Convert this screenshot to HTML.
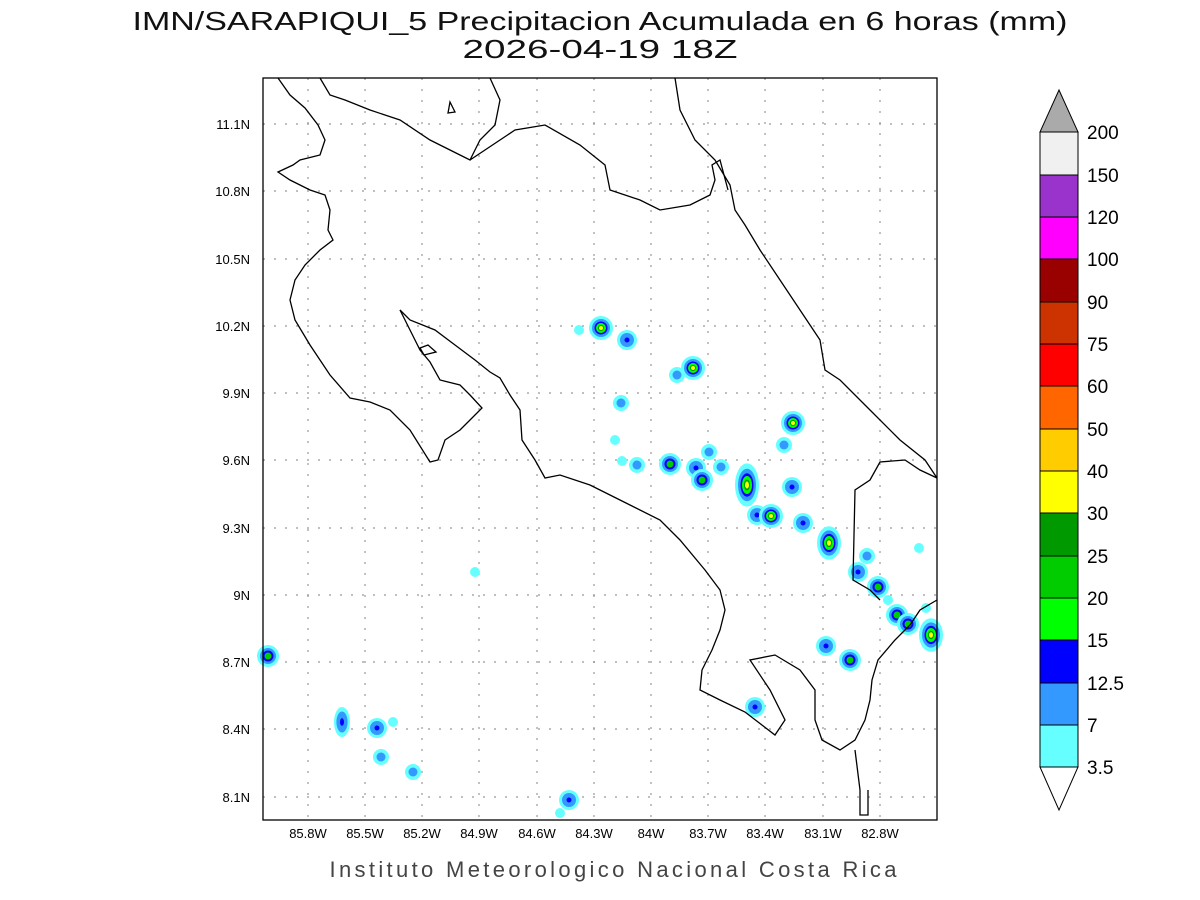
<!DOCTYPE html>
<html><head><style>
body{margin:0;background:#fff;}
svg{display:block;font-family:"Liberation Sans",sans-serif;}
</style></head><body>
<svg width="1200" height="900" viewBox="0 0 1200 900">
<defs>
<g id="b1"><ellipse rx="12" ry="12" fill="#66ffff"/><ellipse rx="9" ry="9" fill="#3399ff"/><ellipse rx="6.5" ry="6.5" fill="#0000ff"/><ellipse rx="5" ry="5" fill="#00ff00"/><ellipse rx="3" ry="3" fill="#009900"/><ellipse rx="2" ry="2" fill="#ffff00"/></g>
<g id="b2"><ellipse rx="11" ry="11" fill="#66ffff"/><ellipse rx="8" ry="8" fill="#3399ff"/><ellipse rx="5.5" ry="5.5" fill="#0000ff"/><ellipse rx="3.5" ry="3.5" fill="#00cc00"/></g>
<g id="b3"><ellipse rx="10" ry="10" fill="#66ffff"/><ellipse rx="7" ry="7" fill="#3399ff"/><ellipse rx="2.5" ry="2.5" fill="#0000ff"/></g>
<g id="b4"><ellipse rx="8" ry="8" fill="#66ffff"/><ellipse rx="4.5" ry="4.5" fill="#3399ff"/></g>
<g id="b5"><ellipse rx="5" ry="5" fill="#66ffff"/></g>
</defs>
<text x="600" y="30" font-size="26" text-anchor="middle" textLength="935" lengthAdjust="spacingAndGlyphs" fill="#111">IMN/SARAPIQUI_5 Precipitacion Acumulada en 6 horas (mm)</text>
<text x="600" y="58" font-size="26" text-anchor="middle" textLength="275" lengthAdjust="spacingAndGlyphs" fill="#111">2026-04-19 18Z</text>
<g stroke="#999" stroke-width="1.2" stroke-dasharray="2,9">
<line x1="308" y1="78" x2="308" y2="820"/><line x1="365" y1="78" x2="365" y2="820"/><line x1="422" y1="78" x2="422" y2="820"/><line x1="479" y1="78" x2="479" y2="820"/><line x1="537" y1="78" x2="537" y2="820"/><line x1="594" y1="78" x2="594" y2="820"/><line x1="651" y1="78" x2="651" y2="820"/><line x1="708" y1="78" x2="708" y2="820"/><line x1="765" y1="78" x2="765" y2="820"/><line x1="823" y1="78" x2="823" y2="820"/><line x1="880" y1="78" x2="880" y2="820"/>
<line x1="263" y1="124" x2="937" y2="124"/><line x1="263" y1="191" x2="937" y2="191"/><line x1="263" y1="259" x2="937" y2="259"/><line x1="263" y1="326" x2="937" y2="326"/><line x1="263" y1="393" x2="937" y2="393"/><line x1="263" y1="460" x2="937" y2="460"/><line x1="263" y1="528" x2="937" y2="528"/><line x1="263" y1="595" x2="937" y2="595"/><line x1="263" y1="662" x2="937" y2="662"/><line x1="263" y1="729" x2="937" y2="729"/><line x1="263" y1="797" x2="937" y2="797"/>
</g>
<g>
<use href="#b1" x="601" y="328"/><use href="#b3" x="627" y="340"/><use href="#b5" x="579" y="330"/>
<use href="#b4" x="677" y="375"/><use href="#b1" x="693" y="368"/><use href="#b4" x="621" y="403"/>
<use href="#b5" x="615" y="440"/><use href="#b5" x="622" y="461"/><use href="#b4" x="637" y="465"/>
<use href="#b2" x="670" y="464"/><use href="#b3" x="696" y="468"/><use href="#b2" x="702" y="480"/>
<use href="#b4" x="709" y="452"/><use href="#b4" x="721" y="467"/>
<g transform="translate(747,485) scale(1,1.8)"><use href="#b1"/></g>
<use href="#b3" x="757" y="515"/><use href="#b1" x="771" y="516"/><use href="#b3" x="792" y="487"/>
<use href="#b4" x="784" y="445"/><use href="#b1" x="793" y="423"/><use href="#b3" x="803" y="523"/>
<g transform="translate(829,543) scale(1,1.4)"><use href="#b1"/></g>
<use href="#b3" x="858" y="572"/><use href="#b4" x="867" y="556"/><use href="#b2" x="878" y="587"/><use href="#b2" x="897" y="615"/><use href="#b2" x="908" y="624"/>
<g transform="translate(931,635) scale(1,1.4)"><use href="#b1"/></g>
<use href="#b3" x="826" y="646"/><use href="#b2" x="850" y="660"/><use href="#b3" x="755" y="707"/>
<use href="#b2" x="268" y="656"/><g transform="translate(342,722) scale(0.8,1.5)"><use href="#b3"/></g><use href="#b3" x="377" y="728"/>
<use href="#b4" x="381" y="757"/><use href="#b4" x="413" y="772"/><use href="#b3" x="569" y="800"/>
<use href="#b5" x="475" y="572"/><use href="#b5" x="919" y="548"/><use href="#b5" x="926" y="608"/><use href="#b5" x="393" y="722"/><use href="#b5" x="560" y="813"/><use href="#b5" x="888" y="600"/>
</g>
<g fill="none" stroke="#000" stroke-width="1.3">
<path d="M278,78 L290,95 L305,108 L318,125 L325,140 L320,155 L300,160 L293,165 L278,172 L290,180 L310,190 L325,195 L330,210 L328,230 L333,240 L320,250 L305,265 L295,280 L290,300 L295,320 L310,345 L330,375 L350,398 L370,402 L390,410 L410,430 L430,462 L438,460 L445,440 L460,430 L470,420 L482,408 L470,395 L460,385 L440,380 L430,362 L420,350 L410,330 L400,310"/>
<path d="M400,310 L410,320 L435,330 L455,345 L475,360 L490,372 L500,378 L510,395 L520,410 L522,440 L535,460 L545,478 L560,475 L590,485 L620,500 L660,520 L680,540 L705,570 L720,590 L725,610 L720,630 L712,650 L702,670 L700,690 L720,700 L745,712 L775,735 L785,720 L770,690 L750,660 L775,655 L800,670 L815,690 L815,720 L822,740 L840,750 L855,740 L865,720 L870,700 L872,680 L878,660 L895,640 L910,625 L920,610 L937,600"/>
<path d="M320,78 L330,95 L345,100 L370,110 L400,120 L430,140 L460,155 L470,160 L480,140 L495,125 L500,100 L490,78"/>
<path d="M470,160 L515,130 L545,125 L580,145 L605,165 L610,190 L640,200 L660,210 L690,205 L710,195 L715,180 L712,165 L720,160 L728,190"/>
<path d="M675,78 L680,110 L695,140 L715,160 L730,185 L735,210 L745,225 L760,250 L780,280 L800,310 L820,340 L825,370 L840,380 L870,410 L900,440 L925,460 L937,478"/>
<path d="M937,478 L920,470 L905,460 L880,462 L870,480 L855,490 L853,580 L870,590 L880,600"/>
<path d="M855,750 L860,790 L860,815 L868,815 L868,790"/>
<path d="M420,348 L428,345 L436,352 L424,355 Z"/><path d="M450,102 L455,112 L448,113 Z"/>
</g>
<rect x="263" y="78" width="674" height="742" fill="none" stroke="#000" stroke-width="1.3"/>
<g font-size="13" text-anchor="middle">
<text x="308" y="838">85.8W</text><text x="365" y="838">85.5W</text><text x="422" y="838">85.2W</text><text x="479" y="838">84.9W</text><text x="537" y="838">84.6W</text><text x="594" y="838">84.3W</text><text x="651" y="838">84W</text><text x="708" y="838">83.7W</text><text x="765" y="838">83.4W</text><text x="823" y="838">83.1W</text><text x="880" y="838">82.8W</text>
</g>
<g font-size="13" text-anchor="end">
<text x="250" y="129">11.1N</text><text x="250" y="196">10.8N</text><text x="250" y="264">10.5N</text><text x="250" y="331">10.2N</text><text x="250" y="398">9.9N</text><text x="250" y="465">9.6N</text><text x="250" y="533">9.3N</text><text x="250" y="600">9N</text><text x="250" y="667">8.7N</text><text x="250" y="734">8.4N</text><text x="250" y="802">8.1N</text>
</g>
<text x="613" y="877" font-size="22" text-anchor="middle" fill="#444" textLength="567" lengthAdjust="spacing">Instituto Meteorologico Nacional Costa Rica</text>
<g stroke="#000" stroke-width="1">
<polygon points="1040,132 1059,90 1078,132" fill="#aaaaaa"/>
<rect x="1040" y="132" width="38" height="43" fill="#f0f0f0"/>
<rect x="1040" y="175" width="38" height="42" fill="#9933cc"/>
<rect x="1040" y="217" width="38" height="42" fill="#ff00ff"/>
<rect x="1040" y="259" width="38" height="43" fill="#990000"/>
<rect x="1040" y="302" width="38" height="42" fill="#cc3300"/>
<rect x="1040" y="344" width="38" height="42" fill="#ff0000"/>
<rect x="1040" y="386" width="38" height="43" fill="#ff6600"/>
<rect x="1040" y="429" width="38" height="42" fill="#ffcc00"/>
<rect x="1040" y="471" width="38" height="42" fill="#ffff00"/>
<rect x="1040" y="513" width="38" height="43" fill="#009900"/>
<rect x="1040" y="556" width="38" height="42" fill="#00cc00"/>
<rect x="1040" y="598" width="38" height="42" fill="#00ff00"/>
<rect x="1040" y="640" width="38" height="43" fill="#0000ff"/>
<rect x="1040" y="683" width="38" height="42" fill="#3399ff"/>
<rect x="1040" y="725" width="38" height="42" fill="#66ffff"/>
<polygon points="1040,767 1059,810 1078,767" fill="#fff"/>
</g>
<g font-size="19">
<text x="1087" y="139">200</text><text x="1087" y="182">150</text><text x="1087" y="224">120</text><text x="1087" y="266">100</text><text x="1087" y="309">90</text><text x="1087" y="351">75</text><text x="1087" y="393">60</text><text x="1087" y="436">50</text><text x="1087" y="478">40</text><text x="1087" y="520">30</text><text x="1087" y="563">25</text><text x="1087" y="605">20</text><text x="1087" y="647">15</text><text x="1087" y="690">12.5</text><text x="1087" y="732">7</text><text x="1087" y="774">3.5</text>
</g>
</svg>
</body></html>
